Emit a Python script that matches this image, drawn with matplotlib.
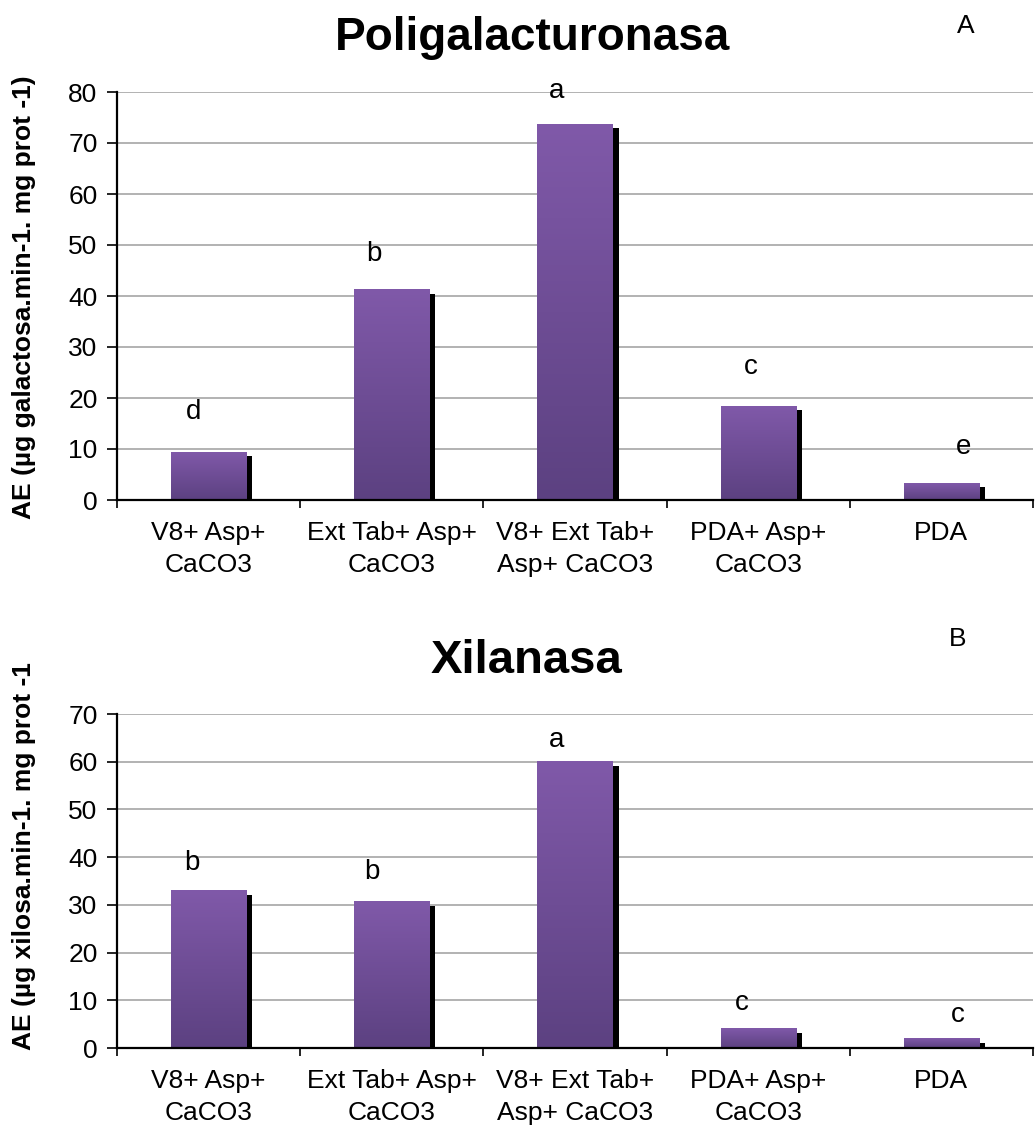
import numpy as np
import matplotlib
matplotlib.use("Agg")
import matplotlib.pyplot as plt
from matplotlib import transforms
from matplotlib.colors import LinearSegmentedColormap

plt.rcParams['font.family'] = ['Liberation Sans', 'DejaVu Sans']

# medios de cultivo
medios = ["V8+ Asp+\nCaCO3", "Ext Tab+ Asp+\nCaCO3", "V8+ Ext Tab+\nAsp+ CaCO3",
          "PDA+ Asp+\nCaCO3", "PDA"]

# actividad enzimatica
poligalacturonasa = [9.4, 41.2, 73.7, 18.4, 3.3]
xilanasa = [33.0, 30.6, 60.0, 4.0, 1.9]

# letras de significancia (Tukey)
letras_pg = ["d", "b", "a", "c", "e"]
letras_xil = ["b", "b", "a", "c", "c"]

# desplazamiento de las letras: (x en unidades de categoria, y en pixeles)
pos_letras_pg = [(-0.08, 40), (-0.10, 36), (-0.10, 33), (-0.04, 39), (0.12, 36)]
pos_letras_xil = [(-0.09, 28), (-0.11, 30), (-0.10, 22), (-0.09, 26), (0.09, 24)]

grad = LinearSegmentedColormap.from_list("morado", ["#5c4181", "#8059a9"])

W, H = 1036, 1132
fig = plt.figure(figsize=(W / 100, H / 100), dpi=100)


def panel(ax, valores, letras, pos_letras, ymax, ylabel, ylabel_y):
    x = np.arange(len(valores))
    ancho = 0.41
    # sombra negra desplazada a la derecha y hacia abajo
    sombra = transforms.offset_copy(ax.transData, fig=fig, x=6, y=-4, units='dots')
    sb = ax.bar(x, valores, width=ancho, color='black', zorder=2)
    for p in sb:
        p.set_transform(sombra)
    barras = ax.bar(x, valores, width=ancho, color='none', zorder=3)
    g = np.linspace(0, 1, 256).reshape(-1, 1)
    for b in barras:
        x0, w, h = b.get_x(), b.get_width(), b.get_height()
        ax.imshow(g, extent=[x0, x0 + w, 0, h], origin='lower', cmap=grad,
                  aspect='auto', zorder=3, interpolation='bilinear')

    for xi, v, l, (dx, dy) in zip(x, valores, letras, pos_letras):
        ax.annotate(l, (xi + dx, v), xytext=(0, dy * 0.72), textcoords='offset points',
                    ha='center', va='center', fontsize=20)

    ax.set_xlim(-0.5, len(valores) - 0.5)
    ax.set_ylim(0, ymax)
    ax.set_yticks(np.arange(0, ymax + 1, 10))
    ax.set_xticks(x)
    ax.set_xticklabels(medios, fontsize=19, linespacing=1.45)
    ax.set_xticks(np.arange(-0.5, len(valores)), minor=True)
    ax.tick_params(axis='x', which='major', length=0, pad=15)
    ax.tick_params(axis='x', which='minor', length=6, width=1.2, direction='out')
    ax.tick_params(axis='y', length=7, width=1.2, labelsize=19, pad=7)
    ax.yaxis.grid(True, color='#a6a6a6', lw=1.2)
    ax.set_axisbelow(True)
    for s in ['top', 'right']:
        ax.spines[s].set_visible(False)
    for s in ['left', 'bottom']:
        ax.spines[s].set_linewidth(1.6)
        ax.spines[s].set_zorder(5)
    fig.text(24 / W, 1 - ylabel_y / H, ylabel, rotation=90, ha='center', va='center',
             fontsize=19, fontweight='bold')


ax1 = fig.add_axes([117 / W, 1 - 500 / H, 916 / W, 408 / H])
panel(ax1, poligalacturonasa, letras_pg, pos_letras_pg, 80,
      "AE (µg galactosa.min-1. mg prot -1)", 297)

ax2 = fig.add_axes([117 / W, 1 - 1048 / H, 916 / W, 334 / H])
panel(ax2, xilanasa, letras_xil, pos_letras_xil, 70,
      "AE (µg xilosa.min-1. mg prot -1", 856)

fig.text(532 / W, 1 - 50 / H, "Poligalacturonasa", ha='center', va='baseline',
         fontsize=33, fontweight='bold')
fig.text(526 / W, 1 - 673 / H, "Xilanasa", ha='center', va='baseline',
         fontsize=34, fontweight='bold')
fig.text(966 / W, 1 - 33 / H, "A", ha='center', va='baseline', fontsize=19)
fig.text(958 / W, 1 - 646 / H, "B", ha='center', va='baseline', fontsize=19)

fig.savefig("out.png", dpi=100, facecolor='white')
